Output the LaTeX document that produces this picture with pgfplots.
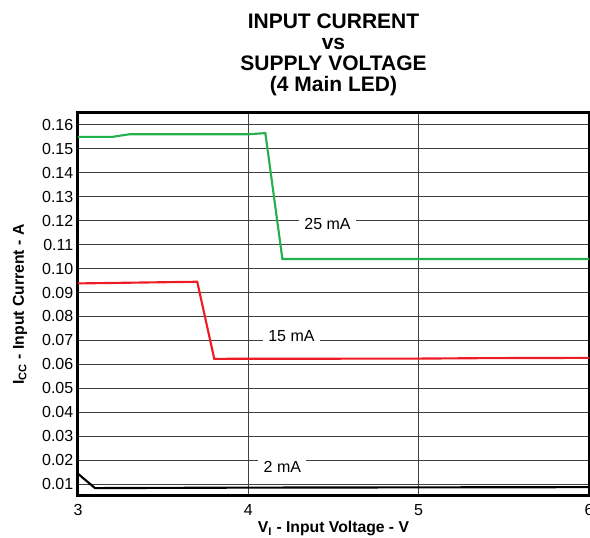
\documentclass[border=0pt]{standalone}
\usepackage{pgfplots}
\pgfplotsset{compat=1.18}
\usepackage{fontspec}
\setmainfont{Liberation Sans}
\definecolor{cgreen}{RGB}{34,177,76}
\definecolor{cred}{RGB}{237,28,36}
\begin{document}
\begin{tikzpicture}
\begin{axis}[
  name=ax,
  scale only axis,
  width=383.25pt, height=287.25pt,
  xmin=3, xmax=6, ymin=0.005, ymax=0.165,
  xtick={3,4,5,6},
  ytick={0.01,0.02,0.03,0.04,0.05,0.06,0.07,0.08,0.09,0.10,0.11,0.12,0.13,0.14,0.15,0.16},
  yticklabel style={/pgf/number format/.cd,fixed,fixed zerofill,precision=2},
  /pgf/number format/assume math mode=true,
  tick label style={font=\fontsize{12}{14}\selectfont},
  xticklabel style={yshift=-3pt},
  major tick length=0pt,
  xmajorgrids, ymajorgrids,
  grid style={black!75, line width=0.75pt},
  axis line style={line width=2.25pt},
  title={INPUT CURRENT\\vs\\SUPPLY VOLTAGE\\(4 Main LED)},
  title style={align=center, font=\bfseries\fontsize{15.75}{15.8}\selectfont,
    at={(axis description cs:0.5,1)}, anchor=south, inner sep=0pt, yshift=6.5pt},
  xlabel={V\textsubscript{I} - Input Voltage - V},
  ylabel={I\textsubscript{CC} - Input Current - A},
  label style={font=\bfseries\fontsize{11.8}{14}\selectfont},
  xlabel style={at={(axis description cs:0.5,-0.0966)}, anchor=base},
  ylabel style={at={(axis description cs:-0.1057,0.5)}, anchor=base, rotate=0},
  clip=false,
]
\addplot[cgreen, line width=1.6pt] coordinates {
 (3,0.1550) (3.2,0.1550) (3.3,0.1561) (4.0,0.1561) (4.1,0.1566) (4.2,0.1040) (6,0.1040)};
\addplot[cred, line width=1.6pt] coordinates {
 (3,0.0938) (3.7,0.0945) (3.8,0.0623) (5,0.0624) (5.4,0.0626) (6,0.0627)};
\addplot[black, line width=1.6pt] coordinates {
 (3,0.0143) (3.1,0.0083) (4,0.0085) (5,0.0086) (6,0.0087)};
\node[fill=white, inner xsep=4pt, inner ysep=1pt, font=\fontsize{12}{14}\selectfont] at (axis cs:4.465,0.1188) {25 mA};
\node[fill=white, inner xsep=4pt, inner ysep=1pt, font=\fontsize{12}{14}\selectfont] at (axis cs:4.253,0.0716) {15 mA};
\node[fill=white, inner xsep=4pt, inner ysep=1pt, font=\fontsize{12}{14}\selectfont] at (axis cs:4.20,0.0170) {2 mA};
\end{axis}
\pgfresetboundingbox
\useasboundingbox ([shift={(-58.5pt,-31.5pt)}]ax.south west) rectangle ([shift={(384pt,372pt)}]ax.south west);
\end{tikzpicture}
\end{document}
